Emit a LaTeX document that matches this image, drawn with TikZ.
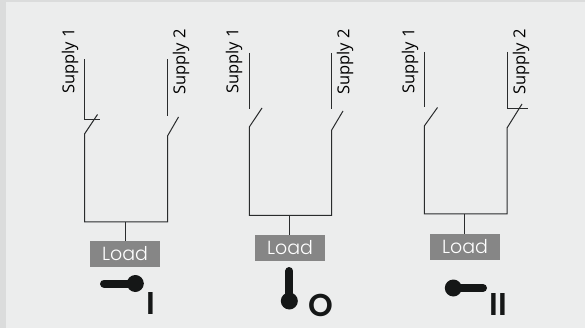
\documentclass[tikz,border=0pt]{standalone}
\usepackage{fontspec}
\setmainfont{Open Sans}
\newfontfamily\geo{Poppins Light}
\newfontfamily\geom{Poppins SemiBold}
\definecolor{bgc}{HTML}{ECEDED}
\definecolor{edgec}{HTML}{DBDCDC}
\definecolor{ink}{HTML}{2A2C2D}
\definecolor{knob}{HTML}{151717}
\definecolor{loadc}{HTML}{868686}
\tikzset{
  wire/.style={draw=ink,line width=1pt,line cap=butt},
  supplylabel/.style={rotate=90,font=\fontsize{16.5}{16.5}\selectfont,text=black,inner sep=0pt,anchor=center},
  loadbox/.style={fill=loadc,minimum width=70pt,minimum height=26pt,inner sep=0pt,text=white,font=\geo\fontsize{19}{19}\selectfont},
  handle/.style={draw=knob,line width=8pt,line cap=round},
  ball/.style={fill=knob,circle,minimum size=17pt,inner sep=0pt},
  posmark/.style={text=knob,inner sep=0pt,font=\geom\fontsize{31.5}{31.5}\selectfont}
}
\begin{document}
\begin{tikzpicture}[x=1pt,y=-1pt]
\useasboundingbox (0,0) rectangle (585,328);
\fill[bgc] (0,0) rectangle (585,328);
\fill[edgec] (0,0) rectangle (585,2);
\fill[edgec] (0,0) rectangle (6,328);
% --- circuit I
\node[supplylabel] (s1a) at (70,61) {Supply 1};
\node[supplylabel] (s2a) at (181,62) {Supply 2};
\coordinate (a1t) at (84.5,59.5); \coordinate (a1b) at (84.5,119.5); \coordinate (a1e) at (100,119.5);
\coordinate (a1f) at (97.5,114.5); \coordinate (a1h) at (84.5,134);
\coordinate (a2t) at (167.5,59.5); \coordinate (a2b) at (167.5,116);
\coordinate (a2f) at (178.5,117); \coordinate (a2h) at (167.5,136);
\coordinate (abl) at (84.5,222); \coordinate (abr) at (167.5,222); \coordinate (abm) at (125,222);
\node[loadbox] (la) at (125,254) {Load};
\draw[wire] (a1t) -- (a1b) -- (a1e);
\draw[wire] (a1f) -- (a1h) -- (abl) -- (abr) -- (a2h) -- (a2f);
\draw[wire] (a2t) -- (a2b);
\draw[wire] (abm) -- (la.north);
\node[ball] (ka) at (135.3,283.5) {};
\coordinate (kae) at (104,283.5);
\draw[handle] (kae) -- (ka.center);
\node[posmark] (pa) at (150.5,304) {I};
% --- circuit O
\node[supplylabel] (s1b) at (234,61) {Supply 1};
\node[supplylabel] (s2b) at (345,62) {Supply 2};
\coordinate (b1t) at (249.3,53); \coordinate (b1b) at (249.3,109);
\coordinate (b1f) at (262,108); \coordinate (b1h) at (249.3,127);
\coordinate (b2t) at (331.7,53); \coordinate (b2b) at (331.7,109.5);
\coordinate (b2f) at (343,111); \coordinate (b2h) at (331.7,130);
\coordinate (bbl) at (249.3,215.5); \coordinate (bbr) at (331.7,215.5); \coordinate (bbm) at (289.3,215.5);
\node[loadbox] (lb) at (290,248) {Load};
\draw[wire] (b1t) -- (b1b);
\draw[wire] (b1f) -- (b1h) -- (bbl) -- (bbr) -- (b2h) -- (b2f);
\draw[wire] (b2t) -- (b2b);
\draw[wire] (bbm) -- (lb.north -| bbm);
\node[ball] (kb) at (289.3,301) {};
\coordinate (kbe) at (289.3,271);
\draw[handle] (kbe) -- (kb.center);
\node[posmark] (pb) at (320.5,305.5) {O};
% --- circuit II
\node[supplylabel] (s1c) at (410,61) {Supply 1};
\node[supplylabel] (s2c) at (521,62) {Supply 2};
\coordinate (c1t) at (424.3,52); \coordinate (c1b) at (424.3,107.5);
\coordinate (c1f) at (437.5,107.5); \coordinate (c1h) at (424.3,126);
\coordinate (c2t) at (507,52); \coordinate (c2b) at (507,108.5); \coordinate (c2e) at (528,108.5);
\coordinate (c2f) at (522,104); \coordinate (c2h) at (507,128);
\coordinate (cbl) at (424.3,214); \coordinate (cbr) at (507,214); \coordinate (cbm) at (464.7,214);
\node[loadbox] (lc) at (465,247) {Load};
\draw[wire] (c1t) -- (c1b);
\draw[wire] (c1f) -- (c1h) -- (cbl) -- (cbr) -- (c2h) -- (c2f);
\draw[wire] (c2t) -- (c2b) -- (c2e);
\draw[wire] (cbm) -- (lc.north -| cbm);
\node[ball] (kc) at (453.3,288) {};
\coordinate (kce) at (483,288);
\draw[handle] (kce) -- (kc.center);
\node[posmark] (pc) at (498.5,304.5) {II};
\end{tikzpicture}
\end{document}
